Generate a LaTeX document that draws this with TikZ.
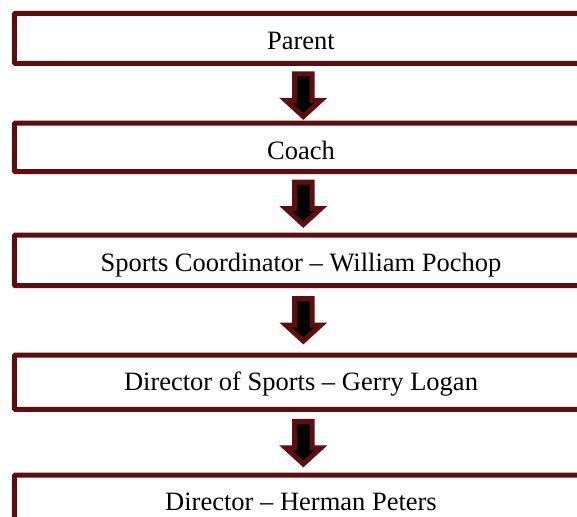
\documentclass[tikz,border=0pt]{standalone}
\usepackage{fontspec}
\setmainfont{Liberation Serif}
\usetikzlibrary{calc}
\definecolor{boxred}{RGB}{94,14,14}
\tikzset{
  stagebox/.style={draw=boxred, line width=5pt, fill=white, rounded corners=1pt,
    anchor=north west, minimum width=573.4pt, inner sep=0pt, text depth=0pt,
    font=\fontsize{26.5}{30}\selectfont},
  blockarrow/.style={draw=boxred, fill=black, line width=5pt, line join=miter, miter limit=3}
}
\newcommand{\dnarrow}[1]{%
  \draw[blockarrow] ($(#1)+(-8.7,-21.5)$) -- ($(#1)+(8.7,-21.5)$) -- ($(#1)+(8.7,5)$)
    -- ($(#1)+(17.5,5)$) -- ($(#1)+(0,21)$) -- ($(#1)+(-17.5,5)$)
    -- ($(#1)+(-8.7,5)$) -- cycle;}
\begin{document}
\begin{tikzpicture}[x=1pt,y=-1pt]
\useasboundingbox (0,0) rectangle (577,516);
\clip (0,0) rectangle (577,516);
\node[stagebox, minimum height=50pt,   text height=23pt]   (b1) at (11.8,10.8)  {Parent};
\node[stagebox, minimum height=48.7pt, text height=24.3pt] (b2) at (11.8,120.5) {Coach};
\node[stagebox, minimum height=50.7pt, text height=22.3pt] (b3) at (11.8,232.5) {Sports Coordinator – William Pochop};
\node[stagebox, minimum height=54.3pt, text height=16.7pt] (b4) at (11.8,352.5) {Director of Sports – Gerry Logan};
\node[stagebox, minimum height=55pt,   text height=16.6pt] (b5) at (11.8,472.5) {Director – Herman Peters};
\coordinate (a1) at ($(b1.south)!0.5!(b2.north)+(2.3,2.3)$);
\coordinate (a2) at ($(b2.south)!0.5!(b3.north)+(2.3,0.2)$);
\coordinate (a3) at ($(b3.south)!0.5!(b4.north)+(2.3,-0.3)$);
\coordinate (a4) at ($(b4.south)!0.5!(b5.north)+(2.3,0.8)$);
\dnarrow{a1}
\dnarrow{a2}
\dnarrow{a3}
\dnarrow{a4}
\end{tikzpicture}
\end{document}
